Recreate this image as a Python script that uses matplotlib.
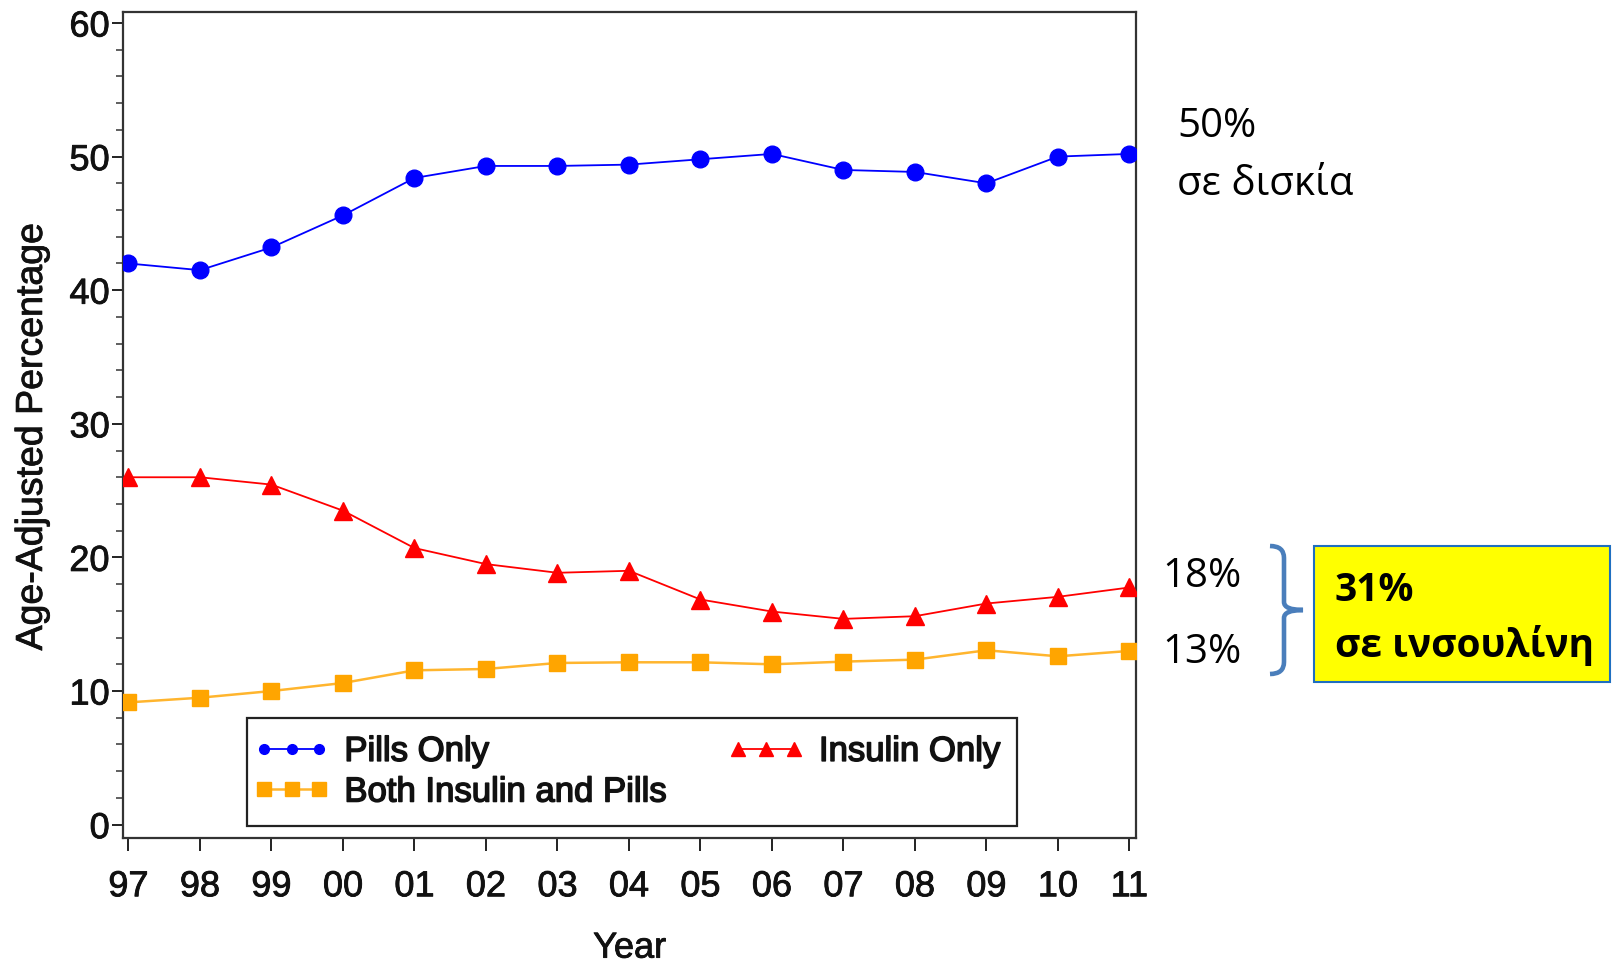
import matplotlib
matplotlib.use("Agg")
import matplotlib.pyplot as plt
import matplotlib.patheffects as pe
from matplotlib.lines import Line2D
from matplotlib.legend_handler import HandlerLine2D
from matplotlib.path import Path
from matplotlib.patches import PathPatch, Rectangle
from matplotlib.transforms import Affine2D
from matplotlib.ticker import MultipleLocator

plt.rcParams['font.family'] = ['Liberation Sans', 'DejaVu Sans']

years = ['97', '98', '99', '00', '01', '02', '03', '04', '05', '06', '07', '08', '09', '10', '11']
pills_only = [42.0, 41.5, 43.2, 45.6, 48.4, 49.3, 49.3, 49.4, 49.8, 50.2, 49.0, 48.85, 48.0, 50.0, 50.2]
insulin_only = [26.0, 26.0, 25.45, 23.5, 20.7, 19.5, 18.85, 19.0, 16.85, 15.95, 15.4, 15.6, 16.55, 17.05, 17.75]
both = [9.15, 9.5, 10.0, 10.6, 11.55, 11.65, 12.1, 12.15, 12.15, 12.0, 12.2, 12.35, 13.05, 12.6, 13.0]

W, H = 1612, 968
fig = plt.figure(figsize=(W / 100, H / 100), dpi=100)
ax = fig.add_axes([0.0766, 0.1343, 0.628, 0.853])

heavy = [pe.withStroke(linewidth=0.6, foreground='#111111')]

x = range(len(years))
ax.plot(x, pills_only, color='#0000ff', lw=1.3, marker='o', ms=12, zorder=3)
ax.plot(x, insulin_only, color='#ff0000', lw=1.3, marker='^', ms=13, zorder=3)
ax.plot(x, both, color='#ffb52e', lw=1.8, marker='s', ms=11,
        mfc='#ffa500', mec='#ffa500', zorder=3)

ax.set_xlim(-0.07, 14.09)
ax.set_ylim(-1.0, 60.8)
ax.set_xticks(list(x))
ax.set_xticklabels(years)
ax.set_yticks(range(0, 61, 10))
ax.yaxis.set_minor_locator(MultipleLocator(2))
ax.tick_params(axis='x', length=9.5, width=1.4, pad=13, labelsize=26, colors='#222222')
ax.tick_params(axis='y', which='major', length=8, width=1.4, pad=2, labelsize=26, colors='#222222')
ax.tick_params(axis='y', which='minor', length=5, width=1.2, colors='#444444')
for s in ax.spines.values():
    s.set_linewidth(1.6)
    s.set_color('#333333')
for t in ax.get_xticklabels() + ax.get_yticklabels():
    t.set_color('#111111')
    t.set_path_effects(heavy)

ax.set_xlabel('Year', fontsize=26, labelpad=19, color='#111111', path_effects=heavy)
ax.set_ylabel('Age-Adjusted Percentage', fontsize=27, labelpad=14, color='#111111',
              path_effects=heavy)
ax.yaxis.label.set_y(0.486)

# legend with smaller symbols than the plotted markers
h_pills = Line2D([], [], color='#0000ff', lw=1.3, marker='o', ms=7)
h_both = Line2D([], [], color='#ffb52e', lw=1.8, marker='s', ms=10, mfc='#ffa500', mec='#ffa500')
h_ins = Line2D([], [], color='#ff0000', lw=1.3, marker='^', ms=10)
leg = ax.legend([h_pills, h_both, h_ins],
                ['Pills Only', 'Both Insulin and Pills', 'Insulin Only'],
                handler_map={Line2D: HandlerLine2D(marker_pad=0)},
                ncol=2, mode='expand', loc='lower left',
                bbox_to_anchor=(0.1218, 0.0151, 0.761, 0.131), borderaxespad=0,
                numpoints=3, handlelength=1.6, handletextpad=0.72,
                borderpad=0.49, labelspacing=0.22, fontsize=25,
                fancybox=False, framealpha=1, edgecolor='#222222')
leg.get_frame().set_linewidth(1.6)
for t in leg.get_texts():
    t.set_path_effects([pe.withStroke(linewidth=1.1, foreground='#111111')])
    t.set_color('#111111')

# annotations to the right of the plot, placed in pixel coordinates
px = Affine2D().scale(1 / W, -1 / H).translate(0, 1) + fig.transFigure
note = dict(family=['Open Sans', 'Noto Sans', 'DejaVu Sans'], fontsize=29,
            transform=px, va='baseline')
fig.text(1177, 137, '50%', **note)
fig.text(1177, 195, 'σε δισκία', **note)
fig.text(1162, 587, '18%', **note)
fig.text(1162, 663, '13%', **note)

xl, xv, xt = 1270, 1284, 1303
yt, ym, yb = 546, 610, 674
brace = Path(
    [(xl, yt), (xv, yt), (xv, yt + 12), (xv, ym - 8), (xv, ym), (xt, ym),
     (xv, ym), (xv, ym + 8), (xv, yb - 12), (xv, yb), (xl, yb)],
    [Path.MOVETO, Path.CURVE3, Path.CURVE3, Path.LINETO, Path.CURVE3, Path.CURVE3,
     Path.CURVE3, Path.CURVE3, Path.LINETO, Path.CURVE3, Path.CURVE3])
fig.patches.append(PathPatch(brace, transform=px, fill=False, ec='#4a7ebb', lw=3.3,
                             capstyle='butt'))

fig.patches.append(Rectangle((1314, 546), 296, 136, transform=px, fc='#ffff00',
                             ec='#1f6fc0', lw=1.5))
bold = dict(note, fontsize=28, weight='bold')
fig.text(1335, 601, '31%', **bold)
fig.text(1335, 657, 'σε ινσουλίνη', **bold)

fig.savefig('out.png', dpi=100)
